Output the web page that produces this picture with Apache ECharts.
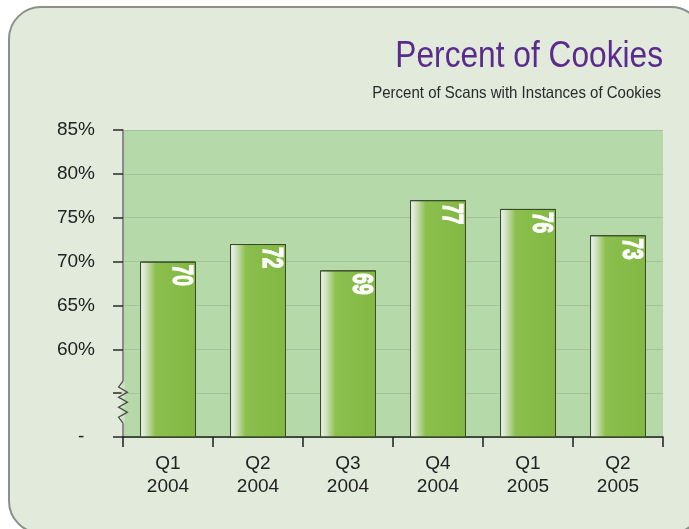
<!DOCTYPE html>
<html>
<head>
<meta charset="utf-8">
<script src="https://cdn.jsdelivr.net/npm/echarts@6/dist/echarts.min.js"></script>
<style>
  html, body { margin: 0; padding: 0; background: #ffffff; }
  #chart { width: 689px; height: 529px; }
</style>
</head>
<body>
<div id="chart"></div>
<script>
// Quarterly share of scans that found cookies
const quarters = ['Q1', 'Q2', 'Q3', 'Q4', 'Q1', 'Q2'];
const years = ['2004', '2004', '2004', '2004', '2005', '2005'];
const percentValues = [70, 72, 69, 77, 76, 73];
const yTicks = [50, 55, 60, 65, 70, 75, 80, 85];

const categories = quarters.map((q, i) => q + '\n' + years[i]);

const SANS = "'Liberation Sans', Arial, Helvetica, sans-serif";

const chart = echarts.init(document.getElementById('chart'), null, { renderer: 'canvas' });

const barGradient = new echarts.graphic.LinearGradient(0, 0, 1, 0, [
  { offset: 0.00, color: '#9aa596' },
  { offset: 0.03, color: '#e9efe4' },
  { offset: 0.10, color: '#d2e3c4' },
  { offset: 0.28, color: '#8cbf4e' },
  { offset: 1.00, color: '#82b842' }
]);

// Condensed, rotated value label sitting at the top-right of each bar
function renderValueLabel(params, api) {
  const idx = api.value(0);
  const val = api.value(1);
  const top = api.coord([idx, val]);
  return {
    type: 'text',
    x: top[0] + 13,
    y: top[1] + 3,
    rotation: -Math.PI / 2,
    scaleX: 0.64,
    style: {
      text: String(val),
      font: "bold 30px 'Liberation Sans', Arial, sans-serif",
      fill: '#ffffff',
      stroke: '#ffffff',
      lineWidth: 1.3,
      align: 'left', textAlign: 'left',
      verticalAlign: 'middle', textVerticalAlign: 'middle'
    }
  };
}

const option = {
  backgroundColor: '#ffffff',
  animation: false,
  grid: {
    left: 123, right: 26, top: 130, bottom: 92,
    show: true, backgroundColor: '#b6d9aa', borderWidth: 0
  },
  xAxis: {
    type: 'category',
    data: categories,
    boundaryGap: true,
    axisLine: { lineStyle: { color: '#1e1e1e', width: 1.5 } },
    axisTick: { show: true, length: 10, lineStyle: { color: '#1e1e1e', width: 1.5 } },
    axisLabel: {
      fontFamily: SANS, fontSize: 19, color: '#222222', lineHeight: 23, margin: 15
    },
    splitLine: { show: false }
  },
  yAxis: {
    type: 'value',
    min: yTicks[0],
    max: yTicks[yTicks.length - 1],
    interval: 5,
    axisLine: { show: true, lineStyle: { color: '#8a8a8a', width: 2 } },
    axisTick: { show: true, length: 10, lineStyle: { color: '#2a2a2a', width: 1.5 } },
    axisLabel: {
      fontFamily: SANS, fontSize: 19, color: '#222222', margin: 28,
      formatter: function (v) {
        if (v === yTicks[0]) return '-  ';
        if (v === yTicks[1]) return '';
        return v + '%';
      }
    },
    splitLine: { show: true, lineStyle: { color: '#a3c498', width: 1 } }
  },
  series: [
    {
      type: 'bar',
      data: percentValues,
      barWidth: 56,
      itemStyle: { color: barGradient, borderColor: '#3b4a2c', borderWidth: 1 }
    },
    {
      type: 'custom',
      data: percentValues.map((v, i) => [i, v]),
      renderItem: renderValueLabel,
      clip: false,
      z: 5
    }
  ]
};

chart.setOption(option);

// Rounded panel, titles and the axis-break zigzag on the value axis
const axisX = chart.convertToPixel({ xAxisIndex: 0 }, 0) - 45;
const breakY = chart.convertToPixel({ yAxisIndex: 0 }, yTicks[1]);
const zig = [];
const zigTop = breakY - 6, step = 5;
zig.push([axisX, zigTop - 6]);
for (let i = 0; i <= 6; i++) {
  zig.push([axisX + (i % 2 === 0 ? -4.5 : 4.5), zigTop + i * step]);
}
zig.push([axisX, zigTop + 6 * step + 6]);

chart.setOption({
  graphic: [
    {
      type: 'rect', z: -10, silent: true,
      shape: { x: 9, y: 7, width: 694, height: 526, r: 32 },
      style: { fill: '#e1eadb', stroke: '#8c908a', lineWidth: 2 }
    },
    {
      type: 'text', z: 10, silent: true,
      x: 663, y: 57, scaleX: 0.88,
      style: {
        text: 'Percent of Cookies',
        font: "36px 'Liberation Sans', Arial, sans-serif",
        fill: '#5a2a8c',
        align: 'right', textAlign: 'right',
        verticalAlign: 'middle', textVerticalAlign: 'middle'
      }
    },
    {
      type: 'text', z: 10, silent: true,
      x: 661, y: 93.5, scaleX: 0.91,
      style: {
        text: 'Percent of Scans with Instances of Cookies',
        font: "16.5px 'Liberation Sans', Arial, sans-serif",
        fill: '#2a2a2a',
        align: 'right', textAlign: 'right',
        verticalAlign: 'middle', textVerticalAlign: 'middle'
      }
    },
    {
      type: 'rect', z: 100, silent: true,
      shape: { x: axisX - 1.5, y: zigTop - 6, width: 3, height: 6 * step + 12 },
      style: { fill: '#cde2c3' }
    },
    {
      type: 'polyline', z: 101, silent: true,
      shape: { points: zig },
      style: { stroke: '#4a4a4a', lineWidth: 1.2, fill: null }
    }
  ]
});
</script>
</body>
</html>
